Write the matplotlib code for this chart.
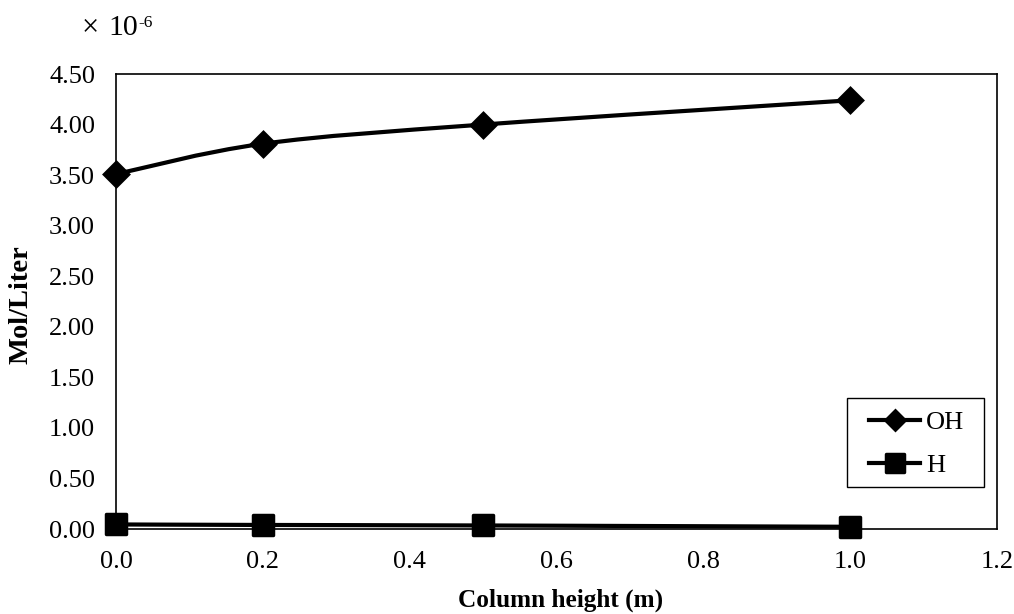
import matplotlib
matplotlib.use("Agg")
import matplotlib.pyplot as plt
from matplotlib.path import Path
from matplotlib.patches import PathPatch, Rectangle
from matplotlib.lines import Line2D
from matplotlib.markers import MarkerStyle
import numpy as np

plt.rcParams['font.family'] = ['Liberation Serif', 'DejaVu Serif']

column_height = [0.0, 0.2, 0.5, 1.0]
oh_values = [3.51, 3.81, 4.00, 4.24]   # x 1e-6 mol/L
h_values = [0.045, 0.04, 0.035, 0.022]  # x 1e-6 mol/L
x_ticks = [0.0, 0.2, 0.4, 0.6, 0.8, 1.0, 1.2]
y_ticks = [0.0, 0.5, 1.0, 1.5, 2.0, 2.5, 3.0, 3.5, 4.0, 4.5]

W, H = 1014, 614
fig = plt.figure(figsize=(W / 100, H / 100), dpi=100)
ax = fig.add_axes([116 / W, 1 - 529 / H, (997 - 116) / W, (529 - 74) / H])


def smooth_path(xs, ys):
    pts = np.column_stack([xs, ys])
    n = len(pts)
    verts = [pts[0]]
    codes = [Path.MOVETO]
    for i in range(n - 1):
        p0 = pts[i - 1] if i > 0 else pts[i]
        p1 = pts[i]
        p2 = pts[i + 1]
        p3 = pts[i + 2] if i + 2 < n else pts[i + 1]
        c1 = p1 + (p2 - p0) / 6.0
        c2 = p2 - (p3 - p1) / 6.0
        verts += [c1, c2, p2]
        codes += [Path.CURVE4] * 3
    return Path(verts, codes)


lw = 3.0
diamond = MarkerStyle('D', joinstyle='miter')
square = MarkerStyle('s', joinstyle='round')
for ys, marker, ms in [(oh_values, diamond, 12), (h_values, square, 14)]:
    patch = PathPatch(smooth_path(column_height, ys), facecolor='none',
                      edgecolor='black', lw=lw, capstyle='round', zorder=2)
    ax.add_patch(patch)
    ax.plot(column_height, ys, linestyle='none', marker=marker, ms=ms,
            mew=2.5, color='black', zorder=3, clip_on=False)

ax.set_xlim(0, 1.2)
ax.set_ylim(0, 4.5)
ax.set_xticks(x_ticks)
ax.set_xticklabels([f"{v:.1f}" for v in x_ticks])
ax.set_yticks(y_ticks)
ax.set_yticklabels([f"{v:.2f}" for v in y_ticks])
ax.tick_params(axis='both', length=0, labelsize=19)
ax.tick_params(axis='x', pad=16)
ax.tick_params(axis='y', pad=15)
for s in ax.spines.values():
    s.set_linewidth(1.2)
    s.set_color('black')

fig.text(561 / W, 1 - 607 / H, 'Column height (m)', fontsize=18.2,
         fontweight='bold', ha='center', va='baseline')
fig.text(21 / W, 1 - 305 / H, 'Mol/Liter', rotation=90, fontsize=20.5,
         fontweight='bold', ha='center', va='center')
fig.text(82 / W, 1 - 35 / H, '\u00d7', fontsize=22, ha='left', va='baseline')
fig.text(108 / W, 1 - 35 / H, '10', fontsize=21.5, ha='left', va='baseline')
fig.text(138 / W, 1 - 27 / H, '-6', fontsize=12.5, ha='left', va='baseline')

# legend
handles = [Line2D([], [], color='black', lw=lw, marker=diamond, ms=10, mew=2),
           Line2D([], [], color='black', lw=lw, marker=square, ms=12.5, mew=2.5)]
leg = ax.legend(handles, ['OH', 'H'], loc='center left',
                bbox_to_anchor=((869 - 116) / (997 - 116), (529 - 444) / (529 - 74)),
                fontsize=19, frameon=False,
                handlelength=1.95, handletextpad=0.2, labelspacing=0.75,
                borderpad=0, borderaxespad=0)
fig.add_artist(Rectangle((847 / W, 1 - 487 / H), (984 - 847) / W, (487 - 398) / H,
                         transform=fig.transFigure, facecolor='none',
                         edgecolor='black', lw=1.0))

fig.savefig('out.png', dpi=100)
